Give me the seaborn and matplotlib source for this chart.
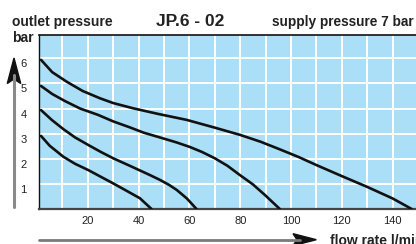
import matplotlib
matplotlib.use("Agg")
import matplotlib.pyplot as plt
import matplotlib.transforms as mtransforms
from matplotlib.patches import Polygon
from matplotlib.lines import Line2D
import pandas as pd
import seaborn as sns

# curves (flow rate l/min, outlet pressure bar)
flow_a = [1.6, 6, 11.7, 18, 24.8, 30, 37.9, 48, 58.9, 70, 80, 88, 95.5, 103, 110, 120, 130, 140, 147.5]
pres_a = [5.94, 5.45, 5.07, 4.70, 4.41, 4.22, 4.01, 3.78, 3.55, 3.24, 2.95, 2.68, 2.38, 2.07, 1.75,
          1.31, 0.88, 0.42, 0.0]
flow_b = [1.6, 6, 11, 17, 24, 30, 36.6, 42, 48.4, 55, 60.2, 65, 70, 75, 79.9, 85, 89.7, 95.6]
pres_b = [4.90, 4.58, 4.30, 4.00, 3.75, 3.49, 3.25, 3.04, 2.85, 2.65, 2.47, 2.27, 2.02, 1.72, 1.35,
          0.98, 0.56, 0.0]
flow_c = [1.6, 5.8, 10.4, 15, 20.2, 25, 30, 37, 44.5, 48.4, 52, 55, 59, 62.8]
pres_c = [3.94, 3.55, 3.18, 2.85, 2.55, 2.28, 2.02, 1.70, 1.35, 1.16, 0.96, 0.76, 0.42, 0.0]
flow_d = [1.6, 5, 10.4, 15, 20.2, 25, 30, 35, 40.5, 45.1]
pres_d = [2.91, 2.52, 2.08, 1.80, 1.55, 1.29, 1.02, 0.74, 0.43, 0.0]

x_ticks = [20, 40, 60, 80, 100, 120, 140]
y_ticks = [1, 2, 3, 4, 5, 6]
x_grid = list(range(10, 150, 10))

W, H = 416, 244


def px(x, y):
    # pixel position -> figure fraction
    return x / W, 1 - y / H


def main():
    sns.set_theme(style="white")
    plt.rcParams["font.family"] = ["Liberation Sans", "DejaVu Sans"]

    fig = plt.figure(figsize=(W / 100, H / 100), dpi=100)
    ax = fig.add_axes([39 / W, (H - 209) / H, (W - 39) / W, (209 - 35) / H])
    ax.set_facecolor("#abdff7")

    frames = []
    for name, fx, fy in [("a", flow_a, pres_a), ("b", flow_b, pres_b),
                         ("c", flow_c, pres_c), ("d", flow_d, pres_d)]:
        frames.append(pd.DataFrame({"flow": fx, "pressure": fy, "curve": name}))
    df = pd.concat(frames, ignore_index=True)

    for v in x_grid:
        ax.axvline(v, color="white", lw=1.4, zorder=1)
    for v in y_ticks:
        ax.axhline(v, color="white", lw=1.4, zorder=1)

    sns.lineplot(data=df, x="flow", y="pressure", units="curve", estimator=None,
                 sort=False, color="#111111", lw=1.9, ax=ax, zorder=3)

    ax.set_xlim(0.8, 149.2)
    ax.set_ylim(0, 6.93)
    ax.set_xlabel("")
    ax.set_ylabel("")
    ax.set_xticks(x_ticks)
    ax.set_xticklabels([str(t) for t in x_ticks])
    ax.set_yticks(y_ticks)
    ax.set_yticklabels([str(t) for t in y_ticks])
    ax.tick_params(axis="both", length=0, labelsize=8, labelcolor="#222222")
    ax.tick_params(axis="x", pad=5)
    ax.tick_params(axis="y", pad=9)
    off = mtransforms.ScaledTranslation(0, -5 / 100, fig.dpi_scale_trans)
    for lab in ax.get_yticklabels():
        lab.set_transform(lab.get_transform() + off)

    ax.spines["right"].set_visible(False)
    ax.spines["top"].set_color("#111111")
    ax.spines["top"].set_linewidth(1.2)
    ax.spines["left"].set_color("#111111")
    ax.spines["left"].set_linewidth(1.0)
    ax.spines["bottom"].set_color("#444444")
    ax.spines["bottom"].set_linewidth(1.6)

    # texts
    fig.text(*px(11.7, 25.7), "outlet pressure", fontsize=10, fontweight="bold",
             color="#222222", va="baseline", ha="left")
    fig.text(*px(11.7, 41.5), "bar", fontsize=10, fontweight="bold",
             color="#222222", va="baseline", ha="left")
    fig.text(*px(156, 25.7), "JP.6 - 02", fontsize=12.5, fontweight="bold",
             color="#222222", va="baseline", ha="left")
    fig.text(*px(272, 25.7), "supply pressure 7 bar", fontsize=9.8, fontweight="bold",
             color="#222222", va="baseline", ha="left")
    fig.text(*px(329.7, 245.5), "flow rate l/min", fontsize=10, fontweight="bold",
             color="#222222", va="baseline", ha="left")

    # vertical arrow
    fig.add_artist(Line2D(*zip(px(14, 207), px(14, 75)), color="#8a8a8a", lw=2.2))
    fig.add_artist(Polygon([px(14, 58), px(20.7, 83.5), px(14, 79), px(7.3, 83.5)],
                           closed=True, color="#111111", transform=fig.transFigure))
    # horizontal arrow
    fig.add_artist(Line2D(*zip(px(39, 239.7), px(300, 239.7)), color="#7a7a7a", lw=2.0))
    fig.add_artist(Polygon([px(316.3, 239.7), px(293, 233.7), px(297, 239.7), px(293, 245.7)],
                           closed=True, color="#111111", transform=fig.transFigure))

    fig.savefig("out.png", dpi=100)


if __name__ == "__main__":
    main()
